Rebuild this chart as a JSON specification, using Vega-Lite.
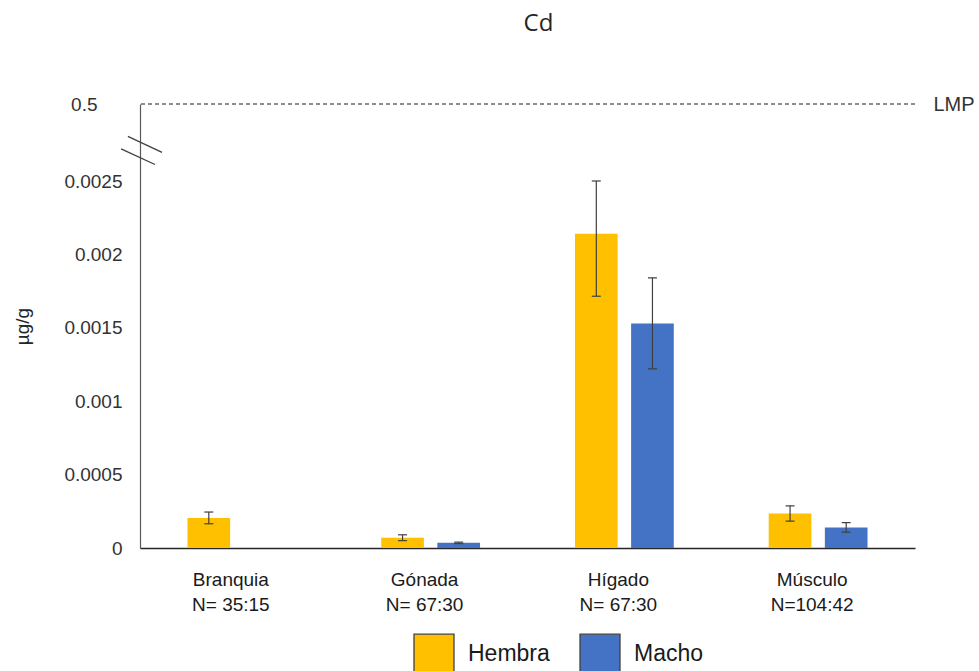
{
  "$schema": "https://vega.github.io/schema/vega-lite/v6.json",
  "width": 775,
  "height": 444,
  "autosize": {"type": "none"},
  "padding": {"left": 140, "top": 104, "right": 64, "bottom": 123},
  "background": "white",
  "title": {
    "text": "Cd",
    "font": "Open Sans",
    "fontSize": 24,
    "fontWeight": "normal",
    "color": "#262626",
    "baseline": "alphabetic",
    "offset": 39,
    "dx": 11
  },
  "config": {
    "view": {"stroke": null},
    "axis": {
      "labelFont": "Liberation Sans",
      "titleFont": "Liberation Sans",
      "labelColor": "#333333",
      "titleColor": "#262626",
      "grid": false,
      "ticks": false
    },
    "legend": {
      "labelFont": "Liberation Sans"
    }
  },
  "datasets": {
    "cd": [
      {"organo": "Branquia\nN= 35:15", "sexo": "Hembra", "media": 0.000205, "inf": 0.000165, "sup": 0.000245},
      {"organo": "Gónada\nN= 67:30", "sexo": "Hembra", "media": 0.00007, "inf": 0.00005, "sup": 0.00009},
      {"organo": "Gónada\nN= 67:30", "sexo": "Macho", "media": 0.000035, "inf": 0.00003, "sup": 0.00004},
      {"organo": "Hígado\nN= 67:30", "sexo": "Hembra", "media": 0.00214, "inf": 0.001715, "sup": 0.002565},
      {"organo": "Hígado\nN= 67:30", "sexo": "Macho", "media": 0.00153, "inf": 0.00122, "sup": 0.00184},
      {"organo": "Músculo\nN=104:42", "sexo": "Hembra", "media": 0.000235, "inf": 0.000183, "sup": 0.000287},
      {"organo": "Músculo\nN=104:42", "sexo": "Macho", "media": 0.00014, "inf": 0.000108, "sup": 0.000173}
    ],
    "limite": [
      {"nombre": "LMP", "valor": 0.5}
    ]
  },
  "layer": [
    {
      "data": {"name": "cd"},
      "mark": {"type": "bar"},
      "encoding": {
        "x": {
          "field": "organo",
          "type": "nominal",
          "sort": null,
          "scale": {"paddingInner": 0.49, "paddingOuter": 0.245},
          "axis": {
            "title": null,
            "labelExpr": "split(datum.value, '\\n')",
            "labelAngle": 0,
            "labelFontSize": 19,
            "labelPadding": 22,
            "labelLineHeight": 25,
            "labelOffset": -6,
            "labelColor": "#1a1a1a",
            "domainColor": "#262626",
            "domainWidth": 1.6
          }
        },
        "xOffset": {
          "field": "sexo",
          "type": "nominal",
          "scale": {"domain": ["Hembra", "Macho"], "paddingInner": 0.24, "paddingOuter": 0}
        },
        "y": {
          "field": "media",
          "type": "quantitative",
          "scale": {"domain": [0, 0.0025, 0.5], "range": [444, 77, 0], "nice": false, "zero": false},
          "axis": {
            "values": [0, 0.0005, 0.001, 0.0015, 0.002, 0.0025, 0.5],
            "labelExpr": "datum.value === 0 ? '0' : '' + datum.value",
            "labelFontSize": 19,
            "labelPadding": {"condition": {"test": "datum.value === 0.5", "value": 43}, "value": 18},
            "domainColor": "#595959",
            "domainWidth": 1.2,
            "title": "µg/g",
            "titleFontSize": 19,
            "titleFontWeight": "normal",
            "titleX": -118,
            "titleY": 222,
            "titleBaseline": "middle"
          }
        },
        "color": {
          "field": "sexo",
          "type": "nominal",
          "scale": {"domain": ["Hembra", "Macho"], "range": ["#FFC000", "#4472C4"]},
          "legend": {
            "title": null,
            "orient": "none",
            "direction": "horizontal",
            "legendX": 273,
            "legendY": 529,
            "symbolType": "square",
            "symbolSize": 1600,
            "symbolStrokeColor": "#404040",
            "symbolStrokeWidth": 1.3,
            "symbolOpacity": 1,
            "labelFontSize": 23,
            "labelColor": "#1a1a1a",
            "labelOffset": 13,
            "columnPadding": 27
          }
        }
      }
    },
    {
      "data": {"name": "cd"},
      "mark": {"type": "rule", "color": "#404040", "strokeWidth": 1.2},
      "encoding": {
        "x": {"field": "organo", "type": "nominal", "sort": null},
        "xOffset": {"field": "sexo", "type": "nominal"},
        "y": {"field": "inf", "type": "quantitative", "axis": null},
        "y2": {"field": "sup"}
      }
    },
    {
      "data": {"name": "cd"},
      "mark": {"type": "tick", "color": "#404040", "size": 9, "thickness": 1.2, "opacity": 1},
      "encoding": {
        "x": {"field": "organo", "type": "nominal", "sort": null},
        "xOffset": {"field": "sexo", "type": "nominal"},
        "y": {"field": "inf", "type": "quantitative", "axis": null}
      }
    },
    {
      "data": {"name": "cd"},
      "mark": {"type": "tick", "color": "#404040", "size": 9, "thickness": 1.2, "opacity": 1},
      "encoding": {
        "x": {"field": "organo", "type": "nominal", "sort": null},
        "xOffset": {"field": "sexo", "type": "nominal"},
        "y": {"field": "sup", "type": "quantitative", "axis": null}
      }
    },
    {
      "data": {"name": "limite"},
      "mark": {"type": "rule", "color": "#1a1a1a", "strokeWidth": 1, "strokeDash": [4, 3]},
      "encoding": {
        "y": {
          "field": "valor",
          "type": "quantitative",
          "axis": {
            "orient": "right",
            "values": [0.5],
            "labelExpr": "'LMP'",
            "labelFontSize": 20,
            "labelPadding": 18,
            "labelColor": "#333333",
            "domain": false,
            "ticks": false,
            "title": null
          }
        }
      }
    },
    {
      "data": {"values": [{"marca": "corte"}]},
      "mark": {
        "type": "point",
        "shape": "M-0.55,-0.64L1,0.09M-0.86,-0.07L0.68,0.64",
        "filled": false,
        "size": 1936,
        "stroke": "#404040",
        "strokeWidth": 1.3,
        "opacity": 1
      },
      "encoding": {
        "x": {"value": 0},
        "y": {"datum": 0.2, "type": "quantitative", "axis": null}
      }
    }
  ],
  "resolve": {"axis": {"y": "independent"}}
}
